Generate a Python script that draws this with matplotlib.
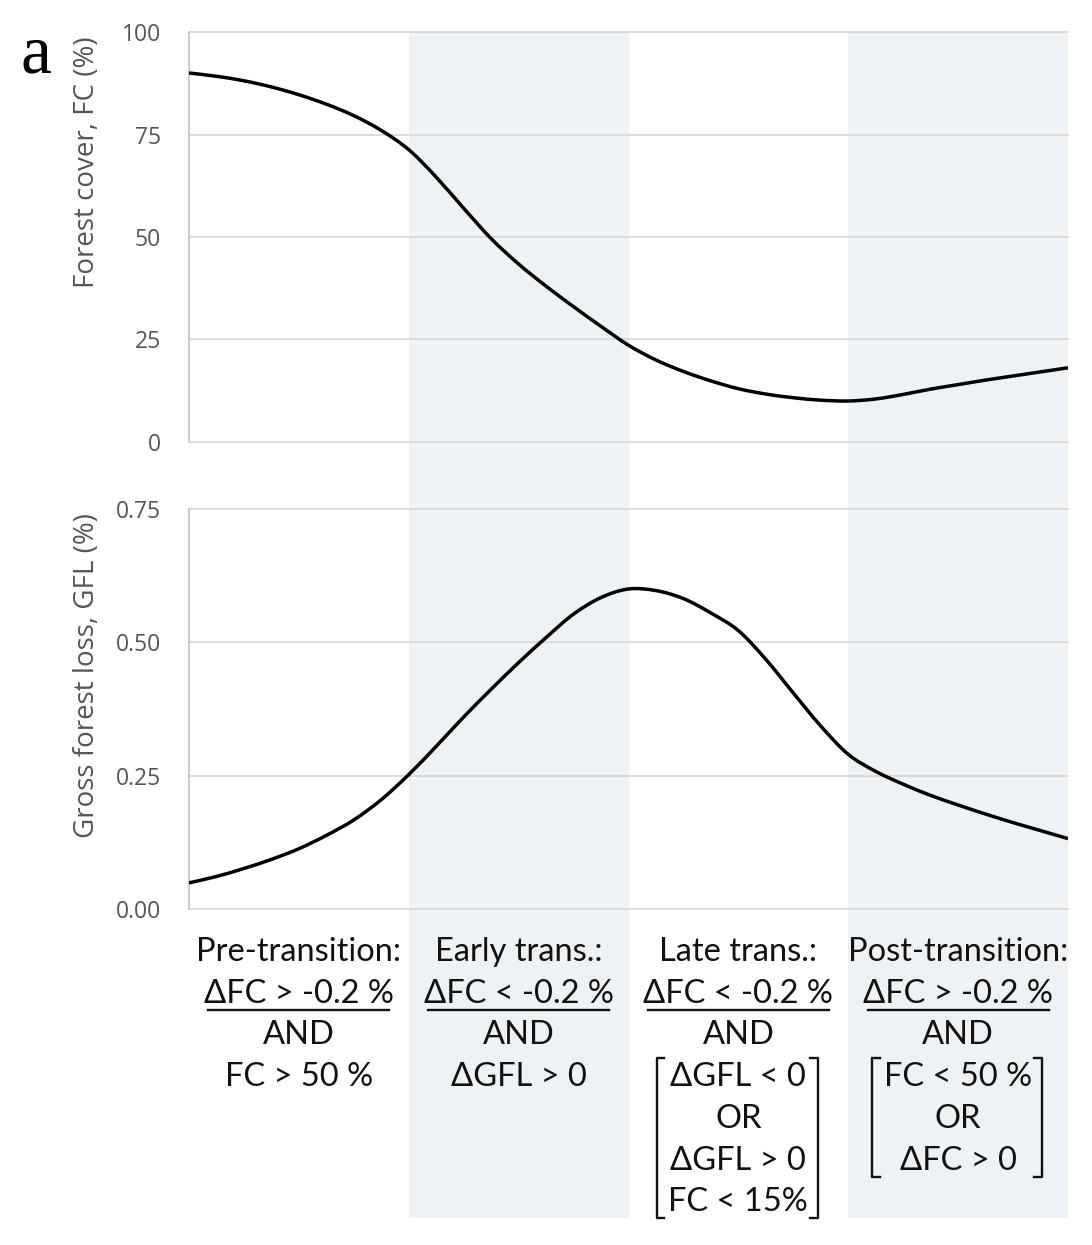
import numpy as np
import matplotlib
matplotlib.use("Agg")
import matplotlib.pyplot as plt
from matplotlib.patches import Rectangle, PathPatch
from matplotlib.path import Path
from matplotlib.lines import Line2D
from matplotlib.transforms import blended_transform_factory

# ------------------------
# Data (x = phase position, 0..4)
# ------------------------
x_pos = np.arange(0, 4.001, 0.125)

forest_cover = [90.0, 89.2, 88.1, 86.6, 84.7, 82.4, 79.6, 76.0, 71.3,
                64.6, 57.0, 49.6, 43.4, 38.0, 33.0, 28.2, 23.6,
                20.0, 17.2, 14.9, 13.0, 11.7, 10.8, 10.2, 10.0,
                10.5, 11.6, 12.9, 14.0, 15.1, 16.1, 17.1, 18.1]

gross_loss = [0.049, 0.061, 0.076, 0.093, 0.113, 0.138, 0.167, 0.205, 0.252,
              0.305, 0.360, 0.412, 0.462, 0.509, 0.553, 0.584, 0.600,
              0.597, 0.582, 0.555, 0.522, 0.468, 0.405, 0.343, 0.290,
              0.258, 0.234, 0.213, 0.195, 0.178, 0.162, 0.147, 0.132]

fc_ticks = [0, 25, 50, 75, 100]
gfl_ticks = [0.0, 0.25, 0.5, 0.75]

shaded_phases = [1, 3]   # Early trans. and Post-transition bands

phase_text = [
    ["Pre-transition:", "\u0394FC > -0.2 %", "AND", "FC > 50 %"],
    ["Early trans.:", "\u0394FC < -0.2 %", "AND", "\u0394GFL > 0"],
    ["Late trans.:", "\u0394FC < -0.2 %", "AND",
     "\u0394GFL < 0", "OR", "\u0394GFL > 0", "FC < 15%"],
    ["Post-transition:", "\u0394FC > -0.2 %", "AND",
     "FC < 50 %", "OR", "\u0394FC > 0"],
]

# ------------------------
# Figure layout
# ------------------------
W, H = 1092, 1245
fig = plt.figure(figsize=(W / 100, H / 100), dpi=100)
fig.patch.set_facecolor("white")

def fx(px):
    return px / W

def fy(py):
    return 1 - py / H

def smooth_line(ax, x, y, **kw):
    # Excel-like smoothed line: Catmull-Rom segments as cubic Beziers
    p = np.column_stack([x, y])
    pts = [p[0]]
    codes = [Path.MOVETO]
    n = len(p)
    for i in range(n - 1):
        p0 = p[max(i - 1, 0)]
        p1, p2 = p[i], p[i + 1]
        p3 = p[min(i + 2, n - 1)]
        pts += [p1 + (p2 - p0) / 6, p2 - (p3 - p1) / 6, p2]
        codes += [Path.CURVE4] * 3
    ax.add_patch(PathPatch(Path(pts, codes), facecolor="none", **kw))

left, right = fx(189), fx(1068)
ax1 = fig.add_axes([left, fy(442), right - left, fy(32) - fy(442)])
ax2 = fig.add_axes([left, fy(909), right - left, fy(509) - fy(909)])

grid_c = "#d9d9d9"
tick_c = "#555555"
shade_c = "#eef2f4"

for ax, ticks, fmt in [(ax1, fc_ticks, "{:.0f}"), (ax2, gfl_ticks, "{:.2f}")]:
    ax.set_facecolor("none")
    ax.set_xlim(0, 4)
    ax.set_ylim(ticks[0], ticks[-1])
    ax.set_yticks(ticks)
    ax.set_yticklabels([fmt.format(t) for t in ticks], fontsize=16.5,
                       color=tick_c, family="Open Sans")
    ax.set_xticks([])
    for t in ticks:
        ax.axhline(t, color=grid_c, lw=1.3, zorder=1, clip_on=False)
    for s in ["top", "right", "bottom"]:
        ax.spines[s].set_visible(False)
    ax.spines["left"].set_color("#c8c8c8")
    ax.spines["left"].set_linewidth(1.3)
    ax.tick_params(axis="y", length=0, pad=20)

smooth_line(ax1, x_pos, forest_cover, edgecolor="black", lw=2.5, zorder=3)
smooth_line(ax2, x_pos, gross_loss, edgecolor="black", lw=2.5, zorder=3)

ax1.set_ylabel("Forest cover, FC (%)", fontsize=20, color=tick_c,
               family="Open Sans")
ax2.set_ylabel("Gross forest loss, GFL (%)", fontsize=20, color=tick_c,
               family="Open Sans")
ax1.yaxis.set_label_coords(-0.1, 0.683)
ax2.yaxis.set_label_coords(-0.1, 0.584)

# shaded phase bands span both panels and the text area below
tr = blended_transform_factory(ax2.transData, fig.transFigure)
for p in shaded_phases:
    fig.add_artist(Rectangle((p, fy(1218)), 1, fy(32) - fy(1218),
                             transform=tr, facecolor=shade_c,
                             edgecolor="none", zorder=-1))

# panel letter
fig.text(fx(36), fy(56), "a", fontsize=50, family="Liberation Serif",
         ha="center", va="center", color="black")

# ------------------------
# Phase criteria text
# ------------------------
line_y0 = 952
line_dy = 41.7
txt_font = dict(fontsize=23.5, family="Lato", color="#111111",
                ha="center", va="center")

fig.canvas.draw()
renderer = fig.canvas.get_renderer()

for i, lines in enumerate(phase_text):
    xc = i + 0.5
    objs = []
    for j, s in enumerate(lines):
        t = fig.text(xc, fy(line_y0 + j * line_dy), s, transform=tr, **txt_font)
        objs.append(t)
    fig.canvas.draw()
    # underline the second line
    bb = objs[1].get_window_extent(renderer)
    uy = fy(line_y0 + line_dy + 16)
    fig.add_artist(Line2D([bb.x0 / W + 0.004, bb.x1 / W - 0.004], [uy, uy],
                          transform=fig.transFigure, color="#111111", lw=1.7))
    # square brackets around the options
    if len(lines) > 4:
        inner = objs[3:]
        bbs = [o.get_window_extent(renderer) for o in inner]
        x0 = min(b.x0 for b in bbs) - 12
        x1 = max(b.x1 for b in bbs) + 10
        top = line_y0 + 3 * line_dy - 19
        bot = line_y0 + (len(lines) - 1) * line_dy + 16
        serif = 8
        for xe, d in [(x0, 1), (x1, -1)]:
            fig.add_artist(Line2D([(xe + d * serif) / W, xe / W, xe / W,
                                   (xe + d * serif) / W],
                                  [fy(top), fy(top), fy(bot), fy(bot)],
                                  transform=fig.transFigure,
                                  color="#111111", lw=1.7))

fig.savefig("out.png", dpi=100, facecolor="white")
